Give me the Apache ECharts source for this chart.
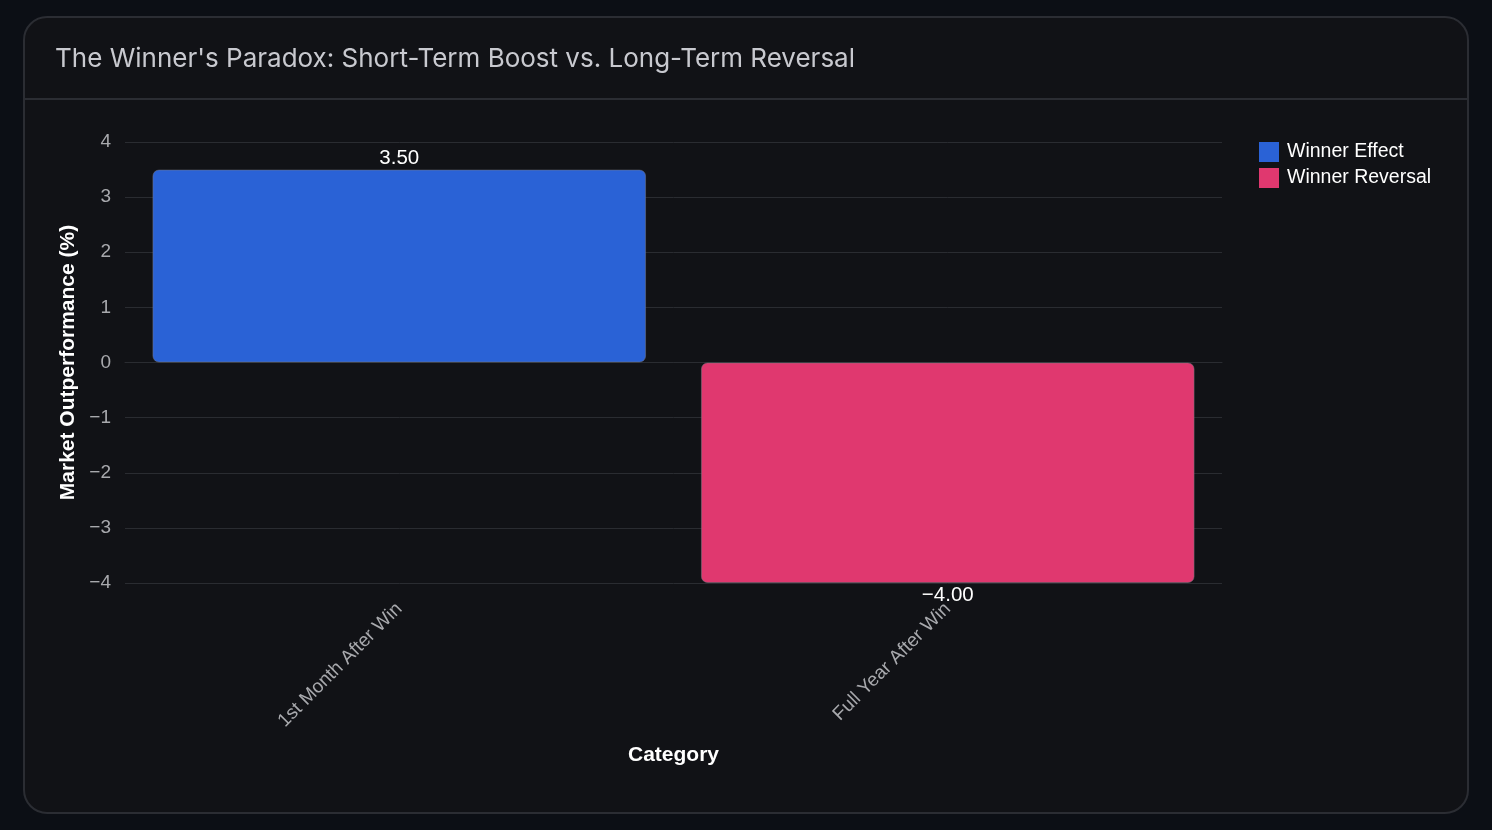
<!DOCTYPE html>
<html>
<head>
<meta charset="utf-8">
<script src="https://cdn.jsdelivr.net/npm/echarts@6/dist/echarts.min.js"></script>
<style>
  html, body { margin: 0; padding: 0; background: #0c0f15; width: 1492px; height: 830px; overflow: hidden; }
  .card {
    position: absolute; left: 23px; top: 16px; width: 1442px; height: 794px;
    border: 2px solid #2b2d33; border-radius: 24px; background: #111216;
  }
  .divider { position: absolute; left: 0; right: 0; top: 80px; border-top: 2px solid #2b2d33; }
  #chart { position: absolute; left: 0; top: 0; width: 1492px; height: 830px; }
</style>
</head>
<body>
<div class="card"><div class="divider"></div></div>
<div id="chart"></div>
<script>
const categories = ['1st Month After Win', 'Full Year After Win']
const seriesNames = ['Winner Effect', 'Winner Reversal']
const winnerEffect = [3.5, null]
const winnerReversal = [null, -4.0]
const colors = ['#2a62d6', '#e0386f']

// minus sign like the original
const fmt = v => String(v).replace('-', '\u2212')
const fmtLabel = p => p.value.toFixed(2).replace('-', '\u2212')

const chart = echarts.init(document.getElementById('chart'))

const option = {
  backgroundColor: 'transparent',
  animation: false,
  textStyle: { fontFamily: 'Liberation Sans, Arial, sans-serif' },
  title: {
    text: "The Winner's Paradox: Short-Term Boost vs. Long-Term Reversal",
    left: 55,
    top: 46,
    padding: 0,
    textStyle: { color: '#c8c9cf', fontSize: 26, fontWeight: 'normal', fontFamily: 'Inter, sans-serif' }
  },
  legend: {
    orient: 'vertical',
    left: 1259,
    top: 142,
    padding: 0,
    itemWidth: 20,
    itemHeight: 20,
    itemGap: 6,
    icon: 'rect',
    data: seriesNames,
    itemStyle: { borderWidth: 0 },
    textStyle: { color: '#ffffff', fontSize: 19.5, padding: [2, 0, 0, 3] }
  },
  grid: { left: 125, right: 270, top: 142, bottom: 247, containLabel: false },
  xAxis: {
    type: 'category',
    data: categories,
    name: 'Category',
    nameLocation: 'middle',
    nameGap: 162,
    nameTextStyle: { color: '#ffffff', fontSize: 21, fontWeight: 'bold' },
    axisLine: { show: true, lineStyle: { color: '#2a2c31' } },
    axisTick: { show: false },
    axisLabel: { rotate: 45, color: '#a8a9ad', fontSize: 19, margin: 23 }
  },
  yAxis: {
    type: 'value',
    min: -4,
    max: 4,
    interval: 1,
    name: 'Market Outperformance (%)',
    nameLocation: 'middle',
    nameGap: 46,
    nameTextStyle: { color: '#ffffff', fontSize: 21, fontWeight: 'bold' },
    axisLine: { show: false },
    axisTick: { show: false },
    axisLabel: { color: '#a8a9ad', fontSize: 19, margin: 14, formatter: fmt },
    splitLine: { lineStyle: { color: '#2a2c31', width: 1 } }
  },
  series: [
    {
      name: seriesNames[0],
      type: 'bar',
      stack: 'total',
      barWidth: '90%',
      data: winnerEffect,
      itemStyle: { color: colors[0], borderRadius: 6, borderColor: 'rgba(120,120,130,0.5)', borderWidth: 1 },
      label: { show: true, position: 'top', color: '#ffffff', fontSize: 20.5, distance: 1, formatter: fmtLabel }
    },
    {
      name: seriesNames[1],
      type: 'bar',
      stack: 'total',
      barWidth: '90%',
      data: winnerReversal,
      itemStyle: { color: colors[1], borderRadius: 6, borderColor: 'rgba(120,120,130,0.5)', borderWidth: 1 },
      label: { show: true, position: 'bottom', color: '#ffffff', fontSize: 20.5, distance: 2, formatter: fmtLabel }
    }
  ]
}

chart.setOption(option)
</script>
</body>
</html>
